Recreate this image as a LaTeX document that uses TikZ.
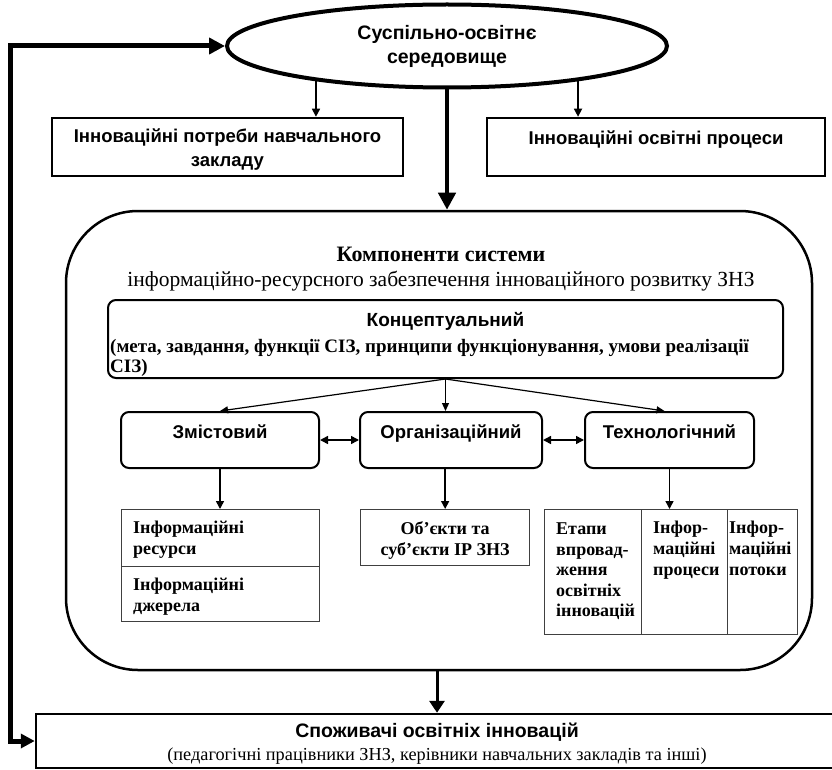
\documentclass[tikz,border=0pt]{standalone}
\usepackage{fontspec}
\setmainfont{Liberation Serif}
\setsansfont{Liberation Sans}
\usetikzlibrary{shapes.geometric, arrows.meta, positioning}
\tikzset{
  envnode/.style={ellipse, draw, line width=4pt, minimum width=440pt, minimum height=83pt,
    inner sep=0pt, align=center, font=\sffamily\bfseries\fontsize{19.5}{24}\selectfont},
  needbox/.style={draw, line width=2.5pt, minimum height=58pt, inner sep=2pt},
  sanstext/.style={inner sep=0pt, align=center, font=\sffamily\bfseries\fontsize{18.5}{24}\selectfont},
  compbox/.style={draw, line width=2.5pt, rounded corners=72pt, minimum width=746pt, minimum height=459pt},
  conceptbox/.style={draw, line width=2pt, rounded corners=8pt, minimum width=675pt, minimum height=78pt},
  stagebox/.style={draw, line width=2pt, rounded corners=8pt, minimum height=56pt, inner sep=0pt,
    text height=12pt, text depth=16pt, font=\sffamily\bfseries\fontsize{18.5}{24}\selectfont},
  infocell/.style={draw=black!75, line width=1.3pt, anchor=north west, inner sep=0pt},
  infotext/.style={anchor=north west, inner sep=0pt, align=left, font=\bfseries\fontsize{18}{21}\selectfont},
  consbox/.style={draw, line width=2.5pt, minimum height=54pt, inner sep=0pt},
  thinarrow/.style={-{Triangle[length=8pt,width=8pt]}, line width=1.5pt},
  fanarrow/.style={-{Triangle[length=8pt,width=7pt]}, line width=1.2pt},
  twoarrow/.style={{Triangle[length=8pt,width=8pt]}-{Triangle[length=8pt,width=8pt]}, line width=1.5pt},
  bigarrow/.style={-{Triangle[length=17pt,width=17pt]}, line width=4.5pt},
  midarrow/.style={-{Triangle[length=12pt,width=15pt]}, line width=3pt},
  fbarrow/.style={{Triangle[length=16pt,width=16pt]}-{Triangle[length=14pt,width=14pt]}, line width=5pt},
}
\begin{document}
\begin{tikzpicture}[x=1pt, y=-1pt]
  \useasboundingbox (0,0) rectangle (832,770);
  % environment and needs
  \node[envnode] (env) at (447,46) {Суспільно-освітнє\\середовище};
  \node[needbox, minimum width=351pt] (needs) at (227.5,147) {};
  \node[sanstext] (needs-t) at ([yshift=-33pt]needs.north) {Інноваційні потреби навчального\\закладу};
  \node[needbox, minimum width=338pt] (proc) at (656,147) {};
  \node[sanstext] (proc-t) at ([yshift=-23pt]proc.north) {Інноваційні освітні процеси};
  \draw[thinarrow] (env.195) -- (env.195 |- needs.north);
  \draw[thinarrow] (env.-15) -- (env.-15 |- proc.north);
  % components
  \node[compbox] (comp) at (439,440.5) {};
  \draw[bigarrow] (env.south) -- (env.south |- comp.north);
  \node[align=center, inner sep=0pt, font=\fontsize{21.5}{25}\selectfont] (comp-t) at (441,269)
    {{\bfseries\fontsize{22}{25}\selectfont Компоненти системи}\\інформаційно-ресурсного забезпечення інноваційного розвитку ЗНЗ};
  \node[conceptbox] (concept) at (445.5,339) {};
  \node[sanstext, font=\sffamily\bfseries\fontsize{19}{20}\selectfont] (concept-t) at ([yshift=-22pt]concept.north) {Концептуальний};
  \node[infotext, font=\bfseries\fontsize{19}{20}\selectfont] (concept-d) at ([shift={(3pt,-40pt)}]concept.north west)
    {(мета, завдання, функції СІЗ, принципи функціонування, умови реалізації\\СІЗ)};
  \node[stagebox, minimum width=198pt] (zmist) at (220,440) {Змістовий};
  \node[stagebox, minimum width=182pt] (org) at (451,440) {Організаційний};
  \node[stagebox, minimum width=169pt] (tech) at (669.5,440) {Технологічний};
  \draw[fanarrow] (concept.south) -- (zmist.north);
  \draw[fanarrow] (concept.south) -- (concept.south |- org.north);
  \draw[fanarrow] (concept.south) -- ([xshift=-5pt]tech.north);
  \draw[twoarrow] (zmist) -- (org);
  \draw[twoarrow] (org) -- (tech);
  % info cells
  \node[infocell, minimum width=198pt, minimum height=57pt] (res) at (121,509) {};
  \node[infocell, minimum width=198pt, minimum height=55pt] (src) at (121,566) {};
  \node[infocell, minimum width=169pt, minimum height=56pt] (objs) at (360,509) {};
  \node[infocell, minimum width=97pt, minimum height=125pt] (stages) at (544,509) {};
  \node[infocell, minimum width=86pt, minimum height=125pt] (procs) at (641,509) {};
  \node[infocell, minimum width=70pt, minimum height=125pt] (flows) at (727,509) {};
  \node[infotext] (res-t) at ([shift={(12pt,-12pt)}]res.north west) {Інформаційні\\ресурси};
  \node[infotext] (src-t) at ([shift={(12pt,-12pt)}]src.north west) {Інформаційні\\джерела};
  \node[infotext, anchor=north, align=center] (objs-t) at ([yshift=-12pt]objs.north) {Об’єкти та\\суб’єкти ІР ЗНЗ};
  \node[infotext, font=\bfseries\fontsize{18}{20.5}\selectfont] (stages-t) at ([shift={(12pt,-14pt)}]stages.north west) {Етапи\\впровад-\\ження\\освітніх\\інновацій};
  \node[infotext] (procs-t) at ([shift={(12pt,-12pt)}]procs.north west) {Інфор-\\маційні\\процеси};
  \node[infotext] (flows-t) at ([shift={(2pt,-12pt)}]flows.north west) {Інфор-\\маційні\\потоки};
  \draw[thinarrow] (zmist.south) -- (zmist.south |- res.north);
  \draw[thinarrow] (org.south -| objs.north) -- (objs.north);
  \draw[thinarrow] (tech.south) -- (tech.south |- procs.north);
  % consumers
  \node[consbox, minimum width=802pt] (cons) at (437,741) {};
  \node[align=center, inner sep=0pt, font=\fontsize{18.3}{23}\selectfont] (cons-t) at ([yshift=-3pt]cons.center)
    {{\sffamily\bfseries\fontsize{19.5}{22}\selectfont Споживачі освітніх інновацій}\\(педагогічні працівники ЗНЗ, керівники навчальних закладів та інші)};
  \draw[midarrow] (cons-t.north |- comp.south) -- (cons-t.north |- cons.north);
  \draw[fbarrow] (env.west) -| ([xshift=-24pt]cons.west) -- (cons.west);
\end{tikzpicture}
\end{document}
